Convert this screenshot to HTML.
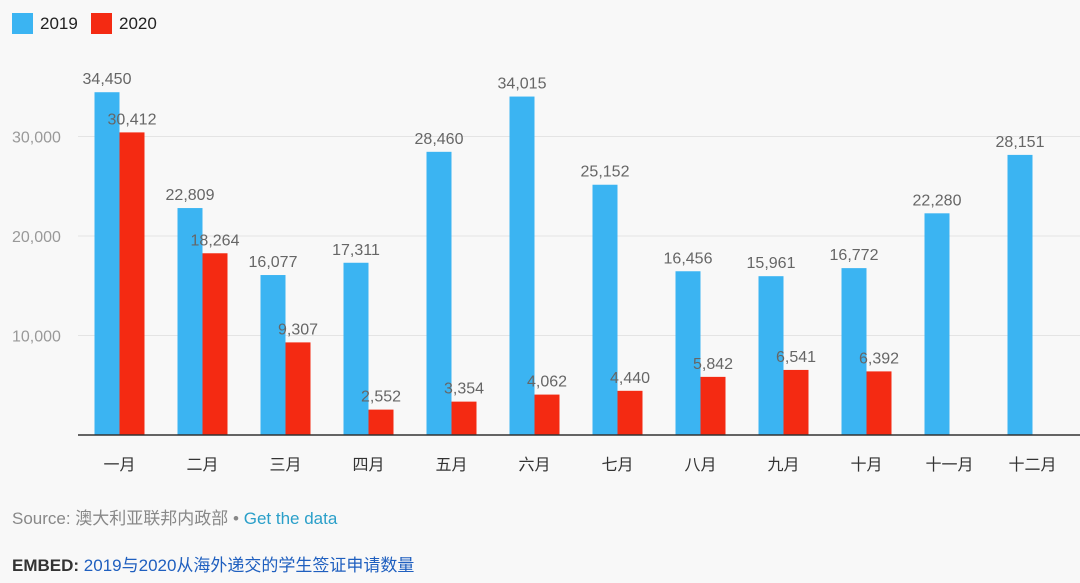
<!DOCTYPE html>
<html><head><meta charset="utf-8"><style>
body{margin:0;width:1080px;height:583px;background:#f8f8f8;font-family:"Liberation Sans","Noto Sans CJK SC",sans-serif;overflow:hidden;position:relative}
.t{position:absolute;white-space:nowrap}
</style></head><body>
<div class="t" style="left:12px;top:12px;height:24px;font-size:17px;color:#222">
<span style="position:absolute;left:0;top:1px;display:flex;align-items:center"><span style="display:inline-block;width:21px;height:21px;background:#3bb4f2;margin-right:7px"></span>2019</span>
<span style="position:absolute;left:79px;top:1px;display:flex;align-items:center"><span style="display:inline-block;width:21px;height:21px;background:#f42a12;margin-right:7px"></span>2020</span>
</div>
<svg id="chart" width="1080" height="500" style="position:absolute;left:0;top:0"></svg>
<div class="t" style="left:12px;top:504px;font-size:17px;color:#888">Source: 澳大利亚联邦内政部 • <span style="color:#2a9fc9">Get the data</span></div>
<div class="t" style="left:12px;top:551px;font-size:17px;color:#333"><b>EMBED:</b> <span style="color:#1f5fbf">2019与2020从海外递交的学生签证申请数量</span></div>
<script>
const categories=["一月","二月","三月","四月","五月","六月","七月","八月","九月","十月","十一月","十二月"];
const values2019=[34450,22809,16077,17311,28460,34015,25152,16456,15961,16772,22280,28151];
const values2020=[30412,18264,9307,2552,3354,4062,4440,5842,6541,6392,null,null];
const yTicks=[10000,20000,30000];
const NS="http://www.w3.org/2000/svg";
const svg=document.getElementById('chart');
const y=v=>435-v*0.00995;
const xc=i=>119.5+i*83;
const bw=25;
const fmt=v=>v.toLocaleString('en-US');
function mk(tag,at,txt){const e=document.createElementNS(NS,tag);for(const k in at)e.setAttribute(k,at[k]);if(txt!=null)e.textContent=txt;svg.appendChild(e);return e;}
yTicks.forEach(t=>{
 const l=mk('line',{x1:78,x2:1080,y1:y(t),y2:y(t),stroke:'#e4e4e4','stroke-width':1});
 
 
 const tx=mk('text',{x:12,y:y(t)+6,'font-size':16,fill:'#999'},fmt(t));
 
 
});
categories.forEach((c,i)=>{
 const v1=values2019[i];
 const b1=mk('rect',{x:xc(i)-bw,y:y(v1),width:bw,height:435-y(v1),fill:'#3bb4f2'});
 
 
 const v2=values2020[i];
 if(v2!=null){
  const b2=mk('rect',{x:xc(i),y:y(v2),width:bw,height:435-y(v2),fill:'#f42a12'});
  
  
 }
 const l1=mk('text',{x:xc(i)-bw/2,y:y(v1)-8,'font-size':16,fill:'#666','text-anchor':'middle'},fmt(v1));
 
 
 if(v2!=null){
  const l2=mk('text',{x:xc(i)+bw/2,y:y(v2)-8,'font-size':16,fill:'#666','text-anchor':'middle'},fmt(v2));
  
  
 }
 const cl=mk('text',{x:xc(i),y:470,'font-size':16,fill:'#333','text-anchor':'middle'},c);
 
 
});
const ax=mk('line',{x1:78,x2:1080,y1:435,y2:435,stroke:'#333','stroke-width':1.5});


</script>
</body></html>
